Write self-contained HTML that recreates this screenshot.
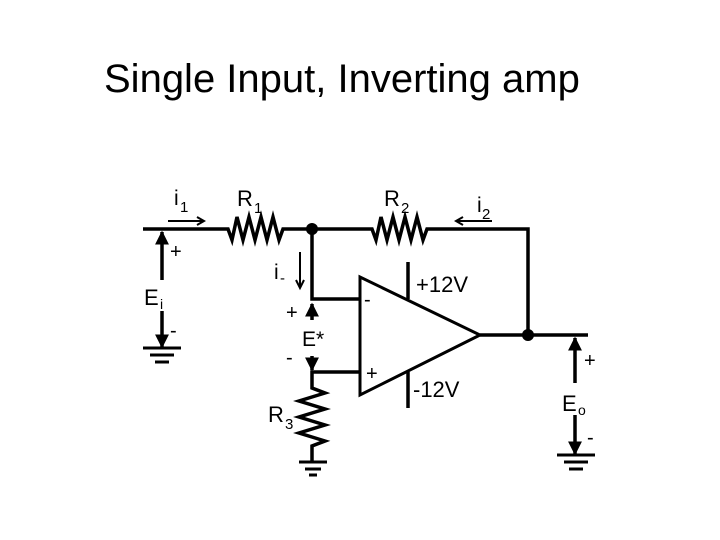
<!DOCTYPE html>
<html><head><style>
body{margin:0;background:#fff;width:720px;height:540px;overflow:hidden}
svg{display:block}
text{font-family:"Liberation Sans",sans-serif;fill:#000}
</style></head><body>
<svg width="720" height="540" viewBox="0 0 720 540">
<defs>
<marker id="ah" viewBox="0 0 10 10" refX="9" refY="5" markerWidth="4" markerHeight="4" orient="auto"><path d="M0,0L10,5L0,10z" fill="#000"/></marker>
</defs>
<text x="104" y="92" font-size="40">Single Input, Inverting amp</text>
<g stroke="#000" stroke-width="3.5" fill="none" stroke-linejoin="miter">
<path d="M143,229H228L232,240L237,217L243,240L249,217L255,240L261,217L267,240L273,217L279,240L283,229H372L376,240L381,217L387,240L393,217L399,240L405,217L411,240L417,217L423,240L427,229H528V335"/>
<path d="M312,229V299H359"/>
<path d="M359,372H312V388L325,393L299,401L325,409L299,417L325,425L299,433L325,441L312,446V462"/>
<path d="M360,277V395L480,335Z" stroke-width="3"/>
<path d="M480,335H588"/>
<path d="M408,262V299M408,372V408"/>
<path d="M299,462H327M305,469H321M309,475H317" stroke-width="3"/>
<path d="M143,348H181M150,355H174M155,362H169" stroke-width="3"/>
<path d="M557,455H595M564,462H588M569,469H583" stroke-width="3"/>
</g>
<circle cx="312" cy="229" r="6"/>
<circle cx="528" cy="335" r="6"/>
<g stroke="#000" stroke-width="3.5" marker-end="url(#ah)">
<line x1="162" y1="280" x2="162" y2="232"/>
<line x1="162" y1="311" x2="162" y2="347"/>
<line x1="575" y1="383" x2="575" y2="338"/>
<line x1="575" y1="415" x2="575" y2="454"/>
<line x1="312" y1="320" x2="312" y2="304"/>
<line x1="312" y1="356" x2="312" y2="370"/>
</g>
<g stroke="#000" stroke-width="2" fill="none">
<path d="M168,221H203M197,217L204,221L197,225"/>
<path d="M456,221H492M463,217L456,221L463,225"/>
<path d="M300,252V287M296,280L300,288L304,280"/>
</g>
<text x="174" y="205" font-size="21">i</text><text x="180" y="212" font-size="15">1</text>
<text x="237" y="206" font-size="22">R</text><text x="254" y="213" font-size="15">1</text>
<text x="384" y="206" font-size="22">R</text><text x="401" y="213" font-size="15">2</text>
<text x="477" y="212" font-size="21">i</text><text x="482" y="219" font-size="15">2</text>
<text x="170" y="258" font-size="20">+</text>
<text x="144" y="305" font-size="22">E</text><text x="160" y="309" font-size="14">i</text>
<text x="170" y="337" font-size="20">-</text>
<text x="274" y="279" font-size="21">i</text><text x="280" y="283" font-size="15">-</text>
<text x="286" y="319" font-size="20">+</text>
<text x="302" y="346" font-size="21">E*</text>
<text x="286" y="364" font-size="20">-</text>
<text x="364" y="306" font-size="20">-</text>
<text x="366" y="380" font-size="20">+</text>
<text x="416" y="292" font-size="22">+12V</text>
<text x="413" y="397" font-size="22">-12V</text>
<text x="268" y="422" font-size="22">R</text><text x="285" y="429" font-size="15">3</text>
<text x="584" y="367" font-size="20">+</text>
<text x="562" y="411" font-size="22">E</text><text x="578" y="415" font-size="14">o</text>
<text x="587" y="444" font-size="20">-</text>
</svg>
</body></html>
